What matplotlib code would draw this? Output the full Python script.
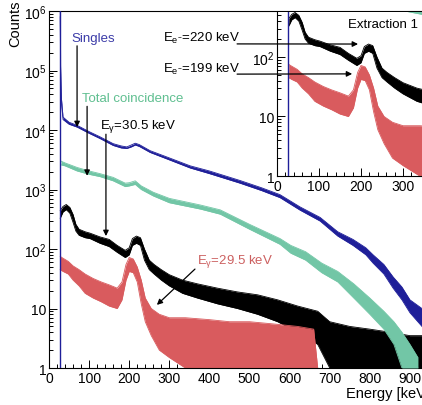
import numpy as np
import matplotlib.pyplot as plt
from matplotlib.ticker import LogLocator, MultipleLocator, FuncFormatter, NullFormatter

plt.rcParams['font.family'] = ['Liberation Sans', 'DejaVu Sans']
plt.rcParams['mathtext.fontset'] = 'custom'
plt.rcParams['mathtext.rm'] = 'Liberation Sans'
plt.rcParams['mathtext.it'] = 'Liberation Sans:italic'
plt.rcParams['mathtext.bf'] = 'Liberation Sans:bold'

# --- data (energy in keV, counts per bin: lower / upper edge of the noisy band)
threshold_keV = 27
threshold_peak = 1e6

singles_E  = [28, 29, 31, 35, 50, 70, 100, 127, 160, 180, 194, 205, 215, 225, 252, 300, 352, 400,
              476, 530, 576, 626, 676, 720, 758, 790, 808, 835, 858, 880, 900, 930, 960]
singles_lo = [8e5, 9e4, 2.8e4, 1.5e4, 1.25e4, 1.12e4, 8.8e3, 7.2e3, 5.5e3, 5.0e3, 4.9e3, 5.2e3, 5.6e3,
              5.3e3, 4.2e3, 3.15e3, 2.3e3, 1.85e3, 1.28e3, 960, 730, 450, 295, 165, 115, 80, 58, 38,
              22, 14, 8.5, 5, 3]
singles_hi = [1e6, 1.2e5, 3.4e4, 1.65e4, 1.35e4, 1.2e4, 9.4e3, 7.7e3, 5.9e3, 5.4e3, 5.2e3, 5.6e3, 6.0e3,
              5.7e3, 4.5e3, 3.4e3, 2.5e3, 2.05e3, 1.42e3, 1.07e3, 820, 510, 340, 195, 145, 105, 80, 55,
              34, 23, 14, 10, 7]

total_E  = [30, 40, 70, 100, 127, 160, 190, 200, 215, 230, 260, 300, 377, 427, 500, 576, 603, 640,
            680, 720, 760, 800, 835, 860, 880, 900, 920]
total_lo = [2.6e3, 2.5e3, 2.05e3, 1.8e3, 1.65e3, 1.4e3, 1.12e3, 1.15e3, 1.22e3, 1.0e3, 780, 600, 470,
            385, 215, 120, 85, 65, 40, 28, 15, 8, 4.5, 2.5, 1, 1, 1]
total_hi = [3.0e3, 2.8e3, 2.35e3, 2.05e3, 1.85e3, 1.6e3, 1.28e3, 1.3e3, 1.4e3, 1.15e3, 900, 710, 550,
            455, 260, 150, 115, 90, 58, 42, 26, 15, 9, 6, 4, 2.5, 1.5]

g305_E  = [28, 35, 43, 52, 60, 67, 75, 90, 102, 127, 150, 170, 190, 200, 208, 218, 228, 238, 250,
           262, 280, 300, 333, 370, 420, 470, 520, 570, 620, 670, 700, 750, 800, 850, 900, 950]
g305_lo = [330, 420, 460, 400, 280, 200, 170, 155, 150, 125, 110, 88, 72, 80, 115, 125, 115, 65, 45,
           38, 30, 24, 18, 15, 12, 10, 8, 6, 4, 2.5, 1, 1, 1, 1, 1, 1]
g305_hi = [440, 520, 560, 500, 380, 260, 215, 195, 185, 160, 145, 115, 95, 105, 150, 165, 155, 100, 65,
           55, 45, 37, 30, 26, 22, 19, 17, 14, 11, 9, 6, 5, 4.5, 4, 3.5, 3.5]

g295_E  = [28, 35, 48, 60, 75, 90, 110, 130, 150, 170, 182, 192, 200, 210, 220, 230, 240, 255, 275,
           300, 340, 400, 450, 500, 560, 620, 660, 670]
g295_lo = [45, 42, 38, 30, 24, 18, 15, 13, 11, 10, 14, 30, 42, 40, 28, 12, 6, 3.5, 2, 1.5, 1, 1, 1,
           1, 1, 1, 1, 1]
g295_hi = [75, 70, 62, 52, 45, 38, 32, 28, 25, 22, 28, 55, 72, 68, 50, 30, 15, 10, 8, 7, 7, 6.5, 6,
           6, 5.5, 5, 4.5, 1]

x_ticks = [0, 100, 200, 300, 400, 500, 600, 700, 800, 900]
inset_x_ticks = [0, 100, 200, 300]

c_singles = '#1f1f99'
c_total = '#72c6a6'
c_g305 = 'black'
c_g295 = '#d95b5e'


def band(ax, e, lo, hi, color, z):
    ax.fill_between(e, lo, hi, color=color, lw=0, zorder=z)
    ax.plot(e, hi, color=color, lw=0.6, zorder=z)
    ax.plot(e, lo, color=color, lw=0.6, zorder=z)


def log_label(v, pos):
    if v == 1:
        return '1'
    if v == 10:
        return '10'
    return r'$10^{%d}$' % round(np.log10(v))


def style(ax, xmax, ymax):
    ax.set_yscale('log')
    ax.set_xlim(0, xmax)
    ax.set_ylim(1, ymax)
    ax.yaxis.set_major_locator(LogLocator(base=10, numticks=10))
    ax.yaxis.set_minor_locator(LogLocator(base=10, subs=np.arange(2, 10), numticks=10))
    ax.yaxis.set_major_formatter(FuncFormatter(log_label))
    ax.yaxis.set_minor_formatter(NullFormatter())
    ax.xaxis.set_minor_locator(MultipleLocator(20))
    ax.tick_params(which='both', direction='in', top=False, right=False, labelsize=10, width=0.7)
    ax.tick_params(which='major', length=6)
    ax.tick_params(which='minor', length=3)
    ax.tick_params(axis='y', pad=2)
    ax.tick_params(axis='x', pad=2)
    for s in ax.spines.values():
        s.set_linewidth(0.8)


def draw_all(ax):
    band(ax, g305_E, g305_lo, g305_hi, c_g305, 1)
    band(ax, g295_E, g295_lo, g295_hi, c_g295, 2)
    band(ax, total_E, total_lo, total_hi, c_total, 3)
    band(ax, singles_E, singles_lo, singles_hi, c_singles, 4)
    ax.vlines(threshold_keV, 1, threshold_peak, color=c_singles, lw=1.0, zorder=4)


fig = plt.figure(figsize=(4.22, 4.06), dpi=100)
ax = fig.add_axes([0.1161, 0.0911, 0.9028, 0.8793])
draw_all(ax)
style(ax, 950, 1e6)
ax.set_xticks(x_ticks)
ax.spines['right'].set_visible(False)
ax.set_xlabel('Energy [keV]', loc='right', fontsize=10.5, labelpad=1)
fig.text(0.035, 0.998, 'Counts', rotation=90, ha='center', va='top', fontsize=10.5)

arrow = dict(arrowstyle='-|>', lw=0.9, color='black', mutation_scale=8, shrinkA=0, shrinkB=0)

ax.text(57, 3.5e5, 'Singles', color='#3b3ba8', fontsize=9.5, ha='left', va='center')
ax.annotate('', xy=(70, 1.12e4), xytext=(70, 2.6e5), arrowprops=arrow, zorder=6)
ax.text(82, 3.45e4, 'Total coincidence', color='#5fbf90', fontsize=9.5, ha='left', va='center')
ax.annotate('', xy=(95, 1.7e3), xytext=(95, 2.5e4), arrowprops=arrow, zorder=6)
ax.text(127, 1.2e4, r'E$_{\mathrm{\gamma}}$=30.5 keV', color='black', fontsize=9.5, ha='left', va='center')
ax.annotate('', xy=(142, 165), xytext=(142, 8.5e3), arrowprops=arrow, zorder=6)
ax.text(369, 63, r'E$_{\mathrm{\gamma}}$=29.5 keV', color='#cc6060', fontsize=9.5, ha='left', va='center')
ax.annotate('', xy=(269, 11.5), xytext=(364, 46), arrowprops=arrow, zorder=6)
ax.text(284, 3.65e5, r'E$_{\mathrm{e^{-}}}$=220 keV', color='black', fontsize=9.5, ha='left', va='center')
ax.text(284, 1.1e5, r'E$_{\mathrm{e^{-}}}$=199 keV', color='black', fontsize=9.5, ha='left', va='center')

# inset: low-energy zoom of the coincidence spectra
ax_in = fig.add_axes([0.6564, 0.564, 0.3483, 0.404])
ax_in.set_facecolor('white')
draw_all(ax_in)
style(ax_in, 350, 570)
ax_in.set_xticks(inset_x_ticks)
ax_in.spines['right'].set_visible(False)
ax_in.spines['top'].set_visible(False)
ax_in.text(0.483, 0.927, 'Extraction 1', transform=ax_in.transAxes, fontsize=9.5, ha='left', va='center')
ax_in.annotate('', xy=(193, 165), xytext=(469, 2.8e5), textcoords=ax.transData,
               arrowprops=arrow, annotation_clip=False, zorder=6)
ax_in.annotate('', xy=(179, 52), xytext=(469, 8.7e4), textcoords=ax.transData,
               arrowprops=arrow, annotation_clip=False, zorder=6)

fig.savefig('out.png', dpi=100)
